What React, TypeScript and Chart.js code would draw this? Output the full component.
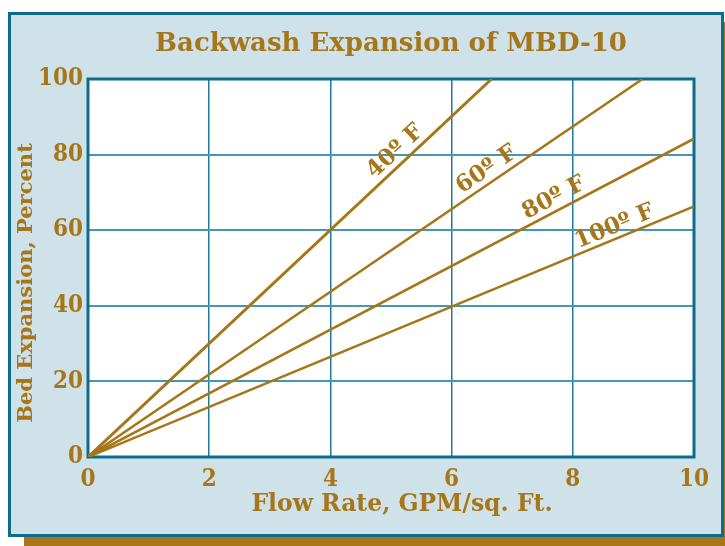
import React, { useEffect, useRef } from "react";
import { Chart, registerables } from "chart.js";

Chart.register(...registerables);

// ---- data ----
const TITLE = "Backwash Expansion of MBD-10";
const X_TITLE = "Flow Rate, GPM/sq. Ft.";
const Y_TITLE = "Bed Expansion, Percent";
const SERIES_LABELS = ["40º F", "60º F", "80º F", "100º F"];
const FLOW_START = [0, 0, 0, 0];
const EXP_START = [0, 0, 0, 0];
const FLOW_END = [6.66, 9.15, 10, 10];
const EXP_END = [100, 100, 84.2, 66.3];
const LABEL_FLOW = [5.07, 6.58, 7.69, 8.69];
const LABEL_EXP = [80.8, 76.0, 68.5, 60.9];
const X_MIN = 0;
const X_MAX = 10;
const X_STEP = 2;
const Y_MIN = 0;
const Y_MAX = 100;
const Y_STEP = 20;

// ---- styles ----
const GOLD = "#a67619";
const TEAL = "#0d6b8b";
const BG = "#cfe1e9";
const LINE_WIDTHS = [3, 2.5, 2.5, 2.5];
const CONDENSED = "'DejaVu Serif Condensed', 'DejaVu Serif', serif";
const SERIF = "'DejaVu Serif', serif";
const X_TITLE_POS = { x: 402, y: 505 };
const Y_TITLE_POS = { x: 27, y: 283 };

const decor = {
  id: "decor",
  beforeDraw(chart: any) {
    const { ctx, chartArea: a } = chart;
    ctx.save();
    ctx.fillStyle = "#ffffff";
    ctx.fillRect(a.left, a.top, a.right - a.left, a.bottom - a.top);
    ctx.restore();
  },
  beforeDatasetsDraw(chart: any) {
    const { ctx, chartArea: a } = chart;
    ctx.save();
    ctx.strokeStyle = TEAL;
    ctx.lineWidth = 3;
    ctx.strokeRect(a.left, a.top, a.right - a.left, a.bottom - a.top);
    ctx.restore();
  },
  afterDatasetsDraw(chart: any) {
    const { ctx } = chart;
    const xs = chart.scales.x;
    const ys = chart.scales.y;
    ctx.save();
    ctx.fillStyle = GOLD;
    ctx.font = `bold 23px ${SERIF}`;
    ctx.textAlign = "center";
    ctx.textBaseline = "middle";
    SERIES_LABELS.forEach((lab, i) => {
      const x0 = xs.getPixelForValue(FLOW_START[i]);
      const y0 = ys.getPixelForValue(EXP_START[i]);
      const x1 = xs.getPixelForValue(FLOW_END[i]);
      const y1 = ys.getPixelForValue(EXP_END[i]);
      const ang = Math.atan2(y1 - y0, x1 - x0);
      const px = xs.getPixelForValue(LABEL_FLOW[i]);
      const py = ys.getPixelForValue(LABEL_EXP[i]);
      ctx.save();
      ctx.translate(px, py);
      ctx.rotate(ang);
      ctx.fillText(lab, 0, 0);
      ctx.restore();
    });
    // axis titles
    ctx.font = `bold 23.5px ${SERIF}`;
    ctx.fillText(X_TITLE, X_TITLE_POS.x, X_TITLE_POS.y);
    ctx.font = `bold 21px ${SERIF}`;
    ctx.save();
    ctx.translate(Y_TITLE_POS.x, Y_TITLE_POS.y);
    ctx.rotate(-Math.PI / 2);
    ctx.fillText(Y_TITLE, 0, 0);
    ctx.restore();
    ctx.restore();
  },
};

export default function App() {
  const ref = useRef<HTMLCanvasElement | null>(null);

  useEffect(() => {
    if (!ref.current) return;
    const datasets = SERIES_LABELS.map((lab, i) => ({
      label: lab,
      data: [
        { x: FLOW_START[i], y: EXP_START[i] },
        { x: FLOW_END[i], y: EXP_END[i] },
      ],
      borderColor: GOLD,
      backgroundColor: GOLD,
      borderWidth: LINE_WIDTHS[i],
      pointRadius: 0,
      tension: 0,
      fill: false,
    }));
    const chart = new Chart(ref.current, {
      type: "line",
      data: { datasets },
      plugins: [decor],
      options: {
        responsive: false,
        animation: false,
        devicePixelRatio: 1,
        layout: { padding: { left: 0, right: 31, top: 0, bottom: 0 } },
        plugins: {
          legend: { display: false },
          tooltip: { enabled: false },
          title: {
            display: true,
            fullSize: false,
            text: TITLE,
            color: GOLD,
            font: { family: SERIF, size: 26, weight: "bold", lineHeight: 1.2 },
            padding: { top: 28.5, bottom: 19.3 },
          },
        },
        scales: {
          x: {
            type: "linear",
            min: X_MIN,
            max: X_MAX,
            afterFit(scale: any) {
              scale.height = 89;
            },
            ticks: {
              stepSize: X_STEP,
              color: GOLD,
              padding: 8,
              maxRotation: 0,
              font: { family: CONDENSED, size: 24, weight: "bold", lineHeight: 1.2 },
            },
            grid: { color: "#1f7b9c", lineWidth: 1.5, drawTicks: false, tickLength: 0 },
            border: { display: false },
          },
          y: {
            type: "linear",
            min: Y_MIN,
            max: Y_MAX,
            afterFit(scale: any) {
              scale.width = 88;
            },
            ticks: {
              stepSize: Y_STEP,
              color: GOLD,
              padding: 5,
              font: { family: CONDENSED, size: 24, weight: "bold", lineHeight: 1.2 },
            },
            grid: { color: "#4597b6", lineWidth: 2, drawTicks: false, tickLength: 0 },
            border: { display: false },
          },
        },
      } as any,
    });
    return () => chart.destroy();
  }, []);

  return (
    <div style={{ position: "fixed", left: 0, top: 0, width: 725, height: 546, background: "#fff" }}>
      <div
        style={{ position: "absolute", left: 24, top: 22, width: 701, height: 524, background: GOLD }}
      />
      <div
        style={{
          position: "absolute",
          left: 8,
          top: 12,
          width: 716,
          height: 525,
          boxSizing: "border-box",
          border: `3px solid ${TEAL}`,
          background: BG,
        }}
      />
      <canvas
        ref={ref}
        width={725}
        height={546}
        style={{ position: "absolute", left: 0, top: 0, width: 725, height: 546 }}
      />
    </div>
  );
}
